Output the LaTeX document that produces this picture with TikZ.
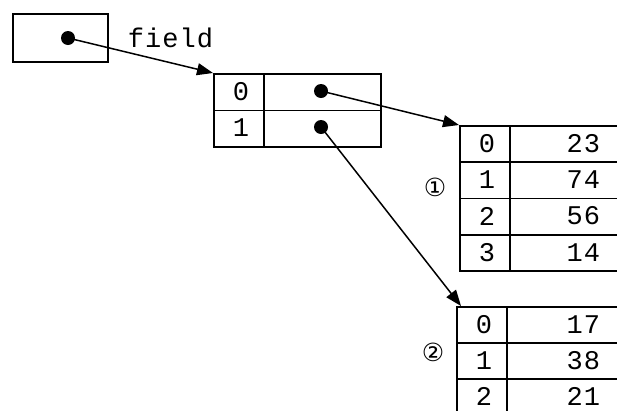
\documentclass[tikz,border=0pt]{standalone}
\usepackage{fontspec}
\newfontfamily\cour[LetterSpace=4]{Liberation Mono}
\newfontfamily\dejavu{DejaVu Sans}
\usetikzlibrary{arrows.meta}
\begin{document}
\begin{tikzpicture}[x=1pt,y=-1pt,line width=1.8pt,
  box/.style={draw, inner sep=0pt, anchor=north west},
  idx/.style={box, minimum width=50pt, minimum height=36.25pt},
  val/.style={box, minimum width=160pt, minimum height=36.25pt},
  mval/.style={box, minimum width=117pt, minimum height=36.5pt},
  txt/.style={inner sep=0pt, font=\cour\fontsize{27}{27}\selectfont},
  dot/.style={circle, fill=black, inner sep=0pt, minimum size=14pt},
  arr/.style={-{Triangle[length=16pt,width=12pt]}, line width=1.5pt},
  circ/.style={inner sep=0pt, font=\dejavu\fontsize{25}{25}\selectfont}]
\useasboundingbox (0,0) rectangle (617,410);
\clip (0,0) rectangle (617,410);
\fill[white] (0,0) rectangle (617,410);
% reference box
\node[box, minimum width=95pt, minimum height=48pt] (ref) at (12,13) {};
\node[dot] (d0) at (68,38) {};
\node[txt, anchor=west] (fld) at (127,38) {field};
% middle array
\node[box, minimum width=50pt, minimum height=36.5pt] (m0) at (213,73) {};
\node[box, minimum width=50pt, minimum height=36.5pt] (m1) at (213,109.5) {};
\node[mval] (mv0) at (263,73) {};
\node[mval] (mv1) at (263,109.5) {};
\node[txt] (mt0) at (241,91.5) {0};
\node[txt] (mt1) at (241,128) {1};
\node[dot] (d1) at (321,91) {};
\node[dot] (d2) at (321,127) {};
% array 1
\foreach \i/\v in {0/23,1/74,2/56,3/14}{
  \node[idx] (a\i) at (459,125+36.25*\i) {};
  \node[val] (av\i) at (509,125+36.25*\i) {};
  \node[txt] (ai\i) at (487,143.5+36.25*\i) {\i};
  \node[txt, anchor=east] (at\i) at (601,143.5+36.25*\i) {\v};
}
\node[circ] (c1) at (435,187) {①};
% array 2
\foreach \i/\v in {0/17,1/38,2/21}{
  \node[idx] (b\i) at (456,306+36*\i) {};
  \node[val] (bv\i) at (506,306+36*\i) {};
  \node[txt] (bi\i) at (484,324.5+36*\i) {\i};
  \node[txt, anchor=east] (bt\i) at (601,324.5+36*\i) {\v};
}
\node[circ] (c2) at (433,352) {②};
% arrows
\draw[arr] (d0.center) -- (m0.north west);
\draw[arr] (d1.center) -- (a0.north west);
\draw[arr] (d2.center) -- ([xshift=5pt]b0.north west);
\end{tikzpicture}
\end{document}
